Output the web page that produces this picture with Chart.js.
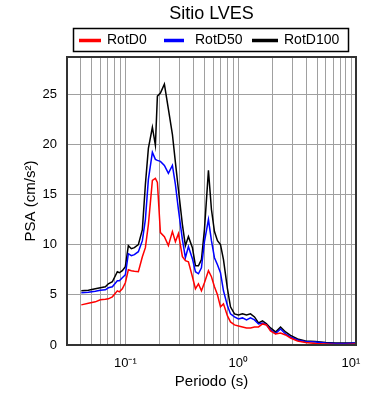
<!DOCTYPE html>
<html><head><meta charset="utf-8">
<script src="https://cdn.jsdelivr.net/npm/chart.js@4/dist/chart.umd.min.js"></script>
<style>html,body{margin:0;padding:0;background:#fff}#wrap{width:390px;height:400px}</style>
</head><body><div id="wrap"><canvas id="c" width="390" height="400"></canvas></div>
<script>
const periods = [0.0407,0.0470,0.0542,0.0600,0.0665,0.0707,0.0767,0.0849,0.0885,0.0940,
  0.1000,0.1063,0.1130,0.1202,0.1304,0.1415,0.1505,0.1600,0.1736,0.1846,
  0.1923,0.2045,0.2218,0.2407,0.2612,0.2777,0.2953,0.3204,0.3406,0.3622,
  0.3930,0.4179,0.4443,0.4724,0.5023,0.5450,0.5795,0.6162,0.6552,0.6967,
  0.7407,0.8036,0.8545,0.9272,1.006,1.092,1.185,1.286,1.395,1.514,
  1.643,1.783,1.934,2.143,2.373,2.629,2.911,3.359,3.955,4.852,
  5.953,7.302,8.957,10.99];
const rotD0 = [4.0,4.15,4.3,4.5,4.55,4.6,4.8,5.4,5.3,5.6,
  6.2,7.5,7.4,7.35,7.3,8.8,9.7,12.0,16.4,16.6,
  16.2,11.2,10.8,9.9,11.3,10.3,11.1,8.8,8.4,8.3,
  6.8,5.6,6.1,5.4,6.2,7.4,6.8,5.8,5.0,3.8,
  4.1,2.9,2.3,2.0,1.9,1.8,1.7,1.7,1.8,1.8,
  2.1,2.0,1.4,1.1,1.2,1.0,0.7,0.4,0.25,0.15,
  0.1,0.05,0.05,0.1];
const rotD50 = [5.2,5.25,5.35,5.45,5.5,5.7,5.8,6.4,6.4,6.7,
  7.0,9.1,8.9,9.0,9.3,10.4,12.5,16.5,19.2,18.5,
  18.4,18.3,17.9,17.1,17.9,16.0,13.5,10.5,8.7,9.8,
  8.6,7.3,7.1,7.7,10.3,12.5,10.4,8.7,8.0,7.2,
  5.4,3.9,3.1,2.8,2.6,2.7,2.5,2.7,2.5,2.1,
  2.2,2.0,1.5,1.15,1.6,1.1,0.8,0.5,0.35,0.3,
  0.2,0.15,0.15,0.2];
const rotD100 = [5.4,5.45,5.6,5.7,5.8,6.1,6.3,7.3,7.2,7.4,
  7.8,9.9,9.6,9.7,10.0,11.5,16.0,19.6,21.7,19.9,
  24.8,25.1,26.0,23.5,21.0,18.2,15.5,12.0,9.9,10.8,
  9.7,7.9,7.9,8.5,11.5,17.4,13.5,11.3,10.4,10.0,
  8.5,5.6,3.8,3.1,3.0,3.1,3.0,3.1,2.8,2.2,
  2.4,2.1,1.7,1.3,1.8,1.3,0.95,0.6,0.4,0.35,
  0.25,0.2,0.2,0.2];
const seriesLabels = ['RotD0','RotD50','RotD100'];
const seriesColors = ['#ff0000','#0000ff','#000000'];
const xGrid = [0.04,0.05,0.06,0.07,0.08,0.09,0.1,0.2,0.3,0.4,0.5,0.6,0.7,0.8,0.9,1,2,3,4,5,6,7,8,9,10];
const xTickLabels = {'0.1':'10\u207B\u00B9','1':'10\u2070','10':'10\u00B9'};
const yTicks = [0,5,10,15,20,25];
const titleText = 'Sitio LVES';
const xTitle = 'Periodo (s)';
const yTitle = 'PSA (cm/s\u00B2)';

const FONT = "'Liberation Sans', Arial, sans-serif";
const series = [rotD0, rotD50, rotD100];

const decor = {
  id: 'decor',
  afterDraw(chart) {
    const ctx = chart.ctx, a = chart.chartArea;
    ctx.save();
    ctx.strokeStyle = '#333';
    ctx.lineWidth = 2;
    ctx.strokeRect(a.left, a.top, a.right - a.left, a.bottom - a.top);
    ctx.fillStyle = '#000';
    ctx.font = '18px ' + FONT;
    ctx.textAlign = 'center';
    ctx.textBaseline = 'middle';
    ctx.fillText(titleText, (a.left + a.right) / 2, 14);
    const bx = 73, by = 28, bw = 275, bh = 23;
    ctx.fillStyle = '#fff';
    ctx.fillRect(bx, by, bw, bh);
    ctx.strokeStyle = '#000';
    ctx.lineWidth = 1.5;
    ctx.strokeRect(bx + 0.5, by + 0.5, bw, bh);
    const items = [[79,101,107],[164,184,195],[252,278,284]];
    const ly = by + bh / 2 + 1;
    ctx.font = '14px ' + FONT;
    ctx.textAlign = 'left';
    chart.data.datasets.forEach((ds, i) => {
      const [x1, x2, tx] = items[i];
      ctx.strokeStyle = ds.borderColor;
      ctx.lineWidth = 3.5;
      ctx.beginPath(); ctx.moveTo(x1, ly); ctx.lineTo(x2, ly); ctx.stroke();
      ctx.fillStyle = '#000';
      ctx.fillText(ds.label, tx, ly);
    });
    ctx.restore();
  }
};

new Chart(document.getElementById('c'), {
  type: 'line',
  data: {
    datasets: series.map((vals, i) => ({
      label: seriesLabels[i],
      data: periods.map((p, j) => ({x: p, y: vals[j]})),
      borderColor: seriesColors[i],
      borderWidth: 1.5,
      pointRadius: 0,
      fill: false,
      tension: 0
    }))
  },
  options: {
    responsive: false,
    devicePixelRatio: 1,
    animation: false,
    layout: {padding: {top: 57, right: 34, left: 0, bottom: 0}},
    plugins: {legend: {display: false}, title: {display: false}, tooltip: {enabled: false}},
    scales: {
      x: {
        type: 'logarithmic',
        position: 'bottom',
        min: 0.0304, max: 11.07,
        afterFit: s => { s.height = 55; },
        afterBuildTicks: s => { s.ticks = xGrid.map(v => ({value: v})); },
        ticks: {
          autoSkip: false, maxRotation: 0, minRotation: 0, padding: 11,
          color: '#000', font: {family: FONT, size: 13},
          callback: v => xTickLabels[String(v)] || ''
        },
        grid: {color: '#a0a0a0', lineWidth: 1, drawTicks: false},
        border: {display: true, color: '#333', width: 2},
        title: {display: true, text: xTitle, color: '#000', font: {family: FONT, size: 15}, padding: {top: 0, bottom: 9}}
      },
      y: {
        type: 'linear',
        min: 0, max: 28.7,
        afterFit: s => { s.width = 67; },
        afterBuildTicks: s => { s.ticks = yTicks.map(v => ({value: v})); },
        ticks: {padding: 10, color: '#000', font: {family: FONT, size: 13}},
        grid: {color: '#a0a0a0', lineWidth: 1, drawTicks: false},
        border: {display: true, color: '#333', width: 2},
        title: {display: true, text: yTitle, color: '#000', font: {family: FONT, size: 15}, padding: {top: 22, bottom: 0}}
      }
    }
  },
  plugins: [decor]
});
</script></body></html>
